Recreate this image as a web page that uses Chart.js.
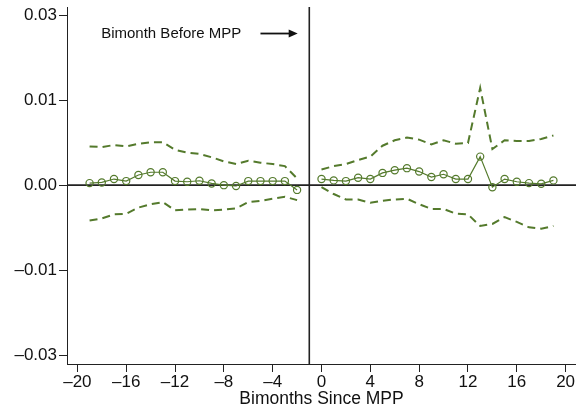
<!DOCTYPE html>
<html>
<head>
<meta charset="utf-8">
<script src="https://cdn.jsdelivr.net/npm/chart.js@4"></script>
<style>
  body { margin: 0; background: #fff; }
  canvas { display: block; }
</style>
</head>
<body>
<canvas id="eventChart" width="576" height="414"></canvas>
<script>
// bimonths relative to MPP (the bimonth before, -1, is the omitted one)
const preBimonths = [-19, -18, -17, -16, -15, -14, -13, -12, -11, -10, -9, -8, -7, -6, -5, -4, -3, -2];
const preCoef = [0.0003, 0.0004, 0.0009, 0.0006, 0.0015, 0.0019, 0.0019, 0.0006, 0.0005, 0.00065, 0.00025, 0.0, -0.00012, 0.0006, 0.0006, 0.0006, 0.0006, -0.0007];
const preUpper = [0.0057, 0.0056, 0.0059, 0.0057, 0.0061, 0.0063, 0.0063, 0.0052, 0.0048, 0.0046, 0.0041, 0.0035, 0.0031, 0.0036, 0.0033, 0.0031, 0.0028, 0.001];
const preLower = [-0.0052, -0.0049, -0.0043, -0.0042, -0.0033, -0.0028, -0.0025, -0.0037, -0.0036, -0.0035, -0.0037, -0.0036, -0.0034, -0.0025, -0.0023, -0.002, -0.0017, -0.0022];

const postBimonths = [0, 1, 2, 3, 4, 5, 6, 7, 8, 9, 10, 11, 12, 13, 14, 15, 16, 17, 18, 19];
const postCoef = [0.0009, 0.0007, 0.0006, 0.0011, 0.0009, 0.0018, 0.0022, 0.0025, 0.002, 0.0012, 0.0016, 0.0009, 0.0009, 0.0042, -0.0003, 0.0009, 0.0005, 0.0003, 0.0002, 0.0007];
const postUpper = [0.0023, 0.0028, 0.0031, 0.0037, 0.0042, 0.0058, 0.0066, 0.007, 0.0067, 0.006, 0.0066, 0.0061, 0.0062, 0.0143, 0.0053, 0.0066, 0.0065, 0.0065, 0.0068, 0.0073];
const postLower = [-0.0003, -0.0013, -0.0021, -0.0021, -0.0026, -0.0023, -0.0021, -0.002, -0.0028, -0.0035, -0.0035, -0.0042, -0.0043, -0.006, -0.0057, -0.0047, -0.0054, -0.0062, -0.0064, -0.006];

const xTicks = [-20, -16, -12, -8, -4, 0, 4, 8, 12, 16, 20];
const yTicks = [-0.025, -0.0125, 0, 0.0125, 0.025];
const refBimonth = -1;

const green = "rgb(84, 122, 44)";
const ink = "#222";
const FONT = "'Liberation Sans', Arial, sans-serif";

function pts(xs, ys) {
  return xs.map((x, i) => ({ x: x, y: ys[i] }));
}

function band(xs, ys) {
  return {
    data: pts(xs, ys),
    borderColor: green,
    borderWidth: 2,
    borderDash: [8, 5],
    pointRadius: 0,
    fill: false,
    tension: 0,
    order: 2,
  };
}

function coefLine(xs, ys) {
  return {
    data: pts(xs, ys),
    borderColor: green,
    borderWidth: 1.2,
    pointStyle: "circle",
    pointRadius: 3.6,
    pointBorderWidth: 1.2,
    pointBorderColor: green,
    pointBackgroundColor: "rgba(0,0,0,0)",
    fill: false,
    tension: 0,
    order: 1,
  };
}

// reference lines at y = 0 and x = -1, plus the text + arrow note
const refLines = {
  id: "refLines",
  beforeDatasetsDraw(chart) {
    const { ctx, chartArea, scales } = chart;
    const y0 = scales.y.getPixelForValue(0);
    const xr = scales.x.getPixelForValue(refBimonth);
    ctx.save();
    ctx.strokeStyle = ink;
    ctx.lineWidth = 1.6;
    ctx.beginPath();
    ctx.moveTo(chartArea.left, y0);
    ctx.lineTo(chartArea.right, y0);
    ctx.moveTo(xr, chartArea.top);
    ctx.lineTo(xr, chartArea.bottom);
    ctx.stroke();
    ctx.restore();
  },
  afterDraw(chart) {
    const { ctx, scales } = chart;
    const ty = scales.y.getPixelForValue(0.0223);
    ctx.save();
    ctx.fillStyle = "#111";
    ctx.font = "15px " + FONT;
    ctx.textAlign = "left";
    ctx.textBaseline = "middle";
    ctx.fillText("Bimonth Before MPP", scales.x.getPixelForValue(-18.05), ty);
    const a0 = scales.x.getPixelForValue(-5.0);
    const a1 = scales.x.getPixelForValue(-1.95);
    ctx.strokeStyle = "#111";
    ctx.lineWidth = 1.8;
    ctx.beginPath();
    ctx.moveTo(a0, ty);
    ctx.lineTo(a1 - 6, ty);
    ctx.stroke();
    ctx.beginPath();
    ctx.moveTo(a1, ty);
    ctx.lineTo(a1 - 9, ty - 4);
    ctx.lineTo(a1 - 9, ty + 4);
    ctx.closePath();
    ctx.fill();
    ctx.restore();
  },
};

const ctx = document.getElementById("eventChart").getContext("2d");
const chart = new Chart(ctx, {
  type: "line",
  data: {
    datasets: [
      coefLine(preBimonths, preCoef),
      coefLine(postBimonths, postCoef),
      band(preBimonths, preUpper),
      band(preBimonths, preLower),
      band(postBimonths, postUpper),
      band(postBimonths, postLower),
    ],
  },
  options: {
    responsive: false,
    animation: false,
    layout: { autoPadding: false, padding: { top: 7, right: 0, bottom: 0, left: 0 } },
    plugins: {
      legend: { display: false },
      tooltip: { enabled: false },
    },
    scales: {
      x: {
        type: "linear",
        min: -20.85,
        max: 20.85,
        afterBuildTicks: (s) => {
          s.ticks = xTicks.map((v) => ({ value: v }));
        },
        afterFit: (s) => {
          s.height = 50;
          s.paddingLeft = 0;
          s.paddingRight = 0;
        },
        border: { color: ink, width: 1 },
        grid: { drawOnChartArea: false, color: ink, tickLength: 8, tickWidth: 1 },
        ticks: {
          color: "#111",
          font: { family: FONT, size: 17 },
          padding: 0,
          maxRotation: 0,
          autoSkip: false,
          callback: (v) => String(v).replace("-", "\u2013"),
        },
        title: {
          display: true,
          text: "Bimonths Since MPP",
          color: "#111",
          font: { family: FONT, size: 17.5 },
          padding: { top: 0, bottom: 4 },
        },
      },
      y: {
        type: "linear",
        min: -0.0263,
        max: 0.0262,
        afterBuildTicks: (s) => {
          s.ticks = yTicks.map((v) => ({ value: v }));
        },
        afterFit: (s) => {
          s.width = 67;
          s.paddingTop = 0;
          s.paddingBottom = 0;
        },
        border: { color: ink, width: 1 },
        grid: { drawOnChartArea: false, color: ink, tickLength: 8, tickWidth: 1 },
        ticks: {
          color: "#111",
          font: { family: FONT, size: 17 },
          padding: 2,
          autoSkip: false,
          callback: (v) => v.toFixed(2).replace("-", "\u2013"),
        },
      },
    },
  },
  plugins: [refLines],
});
</script>
</body>
</html>
